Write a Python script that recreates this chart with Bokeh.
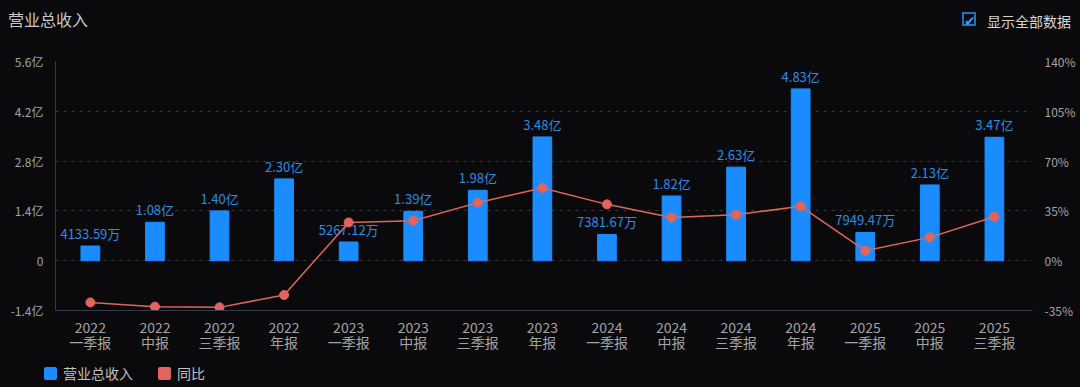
from bokeh.plotting import figure
from bokeh.models import Range1d, LinearAxis, FixedTicker, ColumnDataSource, Div
from bokeh.layouts import column
from bokeh.core.properties import value
from bokeh.embed import file_html
from bokeh.resources import INLINE

# ---- data ----
years = ["2022", "2022", "2022", "2022", "2023", "2023", "2023", "2023",
         "2024", "2024", "2024", "2024", "2025", "2025", "2025"]
periods = ["一季报", "中报", "三季报", "年报", "一季报", "中报", "三季报", "年报",
           "一季报", "中报", "三季报", "年报", "一季报", "中报", "三季报"]
revenue_yi = [0.413359, 1.08, 1.40, 2.30, 0.526712, 1.39, 1.98, 3.48,
              0.738167, 1.82, 2.63, 4.83, 0.794947, 2.13, 3.47]
revenue_labels = ["4133.59万", "1.08亿", "1.40亿", "2.30亿", "5267.12万", "1.39亿", "1.98亿", "3.48亿",
                  "7381.67万", "1.82亿", "2.63亿", "4.83亿", "7949.47万", "2.13亿", "3.47亿"]
yoy_pct = [-29.3, -32.3, -32.8, -24.1, 26.9, 28.1, 40.8, 51.1,
           39.6, 30.4, 32.3, 38.2, 7.0, 16.4, 30.9]
left_ticks = [-1.4, 0, 1.4, 2.8, 4.2, 5.6]
left_tick_labels = ["-1.4亿", "0", "1.4亿", "2.8亿", "4.2亿", "5.6亿"]
right_ticks = [-35, 0, 35, 70, 105, 140]
right_tick_labels = ["-35%", "0%", "35%", "70%", "105%", "140%"]
title_text = "营业总收入"
checkbox_text = "显示全部数据"
legend_labels = ["营业总收入", "同比"]

FONT = "Noto Sans CJK SC"
BG = "#0a0a0c"
BLUE = "#1a8cff"
LABEL_BLUE = "#2b8de6"
RED = "#e0655c"
GREY = "#a3a3a3"

n = len(revenue_yi)
xs = list(range(n))
x_labels = {i: f"{years[i]}\n{periods[i]}" for i in range(n)}

HEAD_H = 45
LEG_H = 23
W = 1080
PH = 387 - HEAD_H - LEG_H

header = Div(width=W, height=HEAD_H, margin=0, styles={"background-color": BG}, text=f"""
<div style="position:relative;width:{W}px;height:{HEAD_H}px;background:{BG};font-family:'{FONT}';">
  <span style="position:absolute;left:8px;top:6px;font-size:16px;line-height:26px;color:#c8c8c8;">{title_text}</span>
  <span style="position:absolute;left:962px;top:12px;width:14px;height:14px;border:2px solid #1f72bf;
        color:#3d9be9;font-family:'DejaVu Sans';font-size:14px;line-height:14px;text-align:center;font-weight:bold;">&#10004;</span>
  <span style="position:absolute;left:987px;top:9px;font-size:14px;line-height:24px;color:#d6d6d6;">{checkbox_text}</span>
</div>""")

legend_div = Div(width=W, height=LEG_H, margin=0, styles={"background-color": BG}, text=f"""
<div style="position:relative;width:{W}px;height:{LEG_H}px;background:{BG};font-family:'{FONT}';">
  <span style="position:absolute;left:44px;top:3px;width:13px;height:13px;border-radius:2px;background:{BLUE};"></span>
  <span style="position:absolute;left:63px;top:-3px;font-size:14px;line-height:24px;color:#c0c0c0;">{legend_labels[0]}</span>
  <span style="position:absolute;left:158px;top:3px;width:13px;height:13px;border-radius:2px;background:{RED};"></span>
  <span style="position:absolute;left:177px;top:-3px;font-size:14px;line-height:24px;color:#c0c0c0;">{legend_labels[1]}</span>
</div>""")

p = figure(width=W, height=PH, output_backend="svg", toolbar_location=None,
           x_range=Range1d(-0.54, n - 1 + 0.59), y_range=Range1d(-1.4, 5.6),
           background_fill_color=BG, border_fill_color=BG, margin=0,
           min_border_left=55, min_border_right=48, min_border_top=61 - HEAD_H,
           min_border_bottom=PH - (310 - HEAD_H))
p.outline_line_color = None

# left axis
ya = p.yaxis[0]
ya.ticker = FixedTicker(ticks=left_ticks)
ya.major_label_overrides = {t: l for t, l in zip(left_ticks, left_tick_labels)}
ya.axis_line_color = "#323a4e"
ya.major_tick_line_color = None
ya.minor_tick_line_color = None
ya.major_label_text_color = GREY
ya.major_label_text_font = FONT
ya.major_label_text_font_size = "12px"
ya.major_label_standoff = 6

# right axis
p.extra_y_ranges = {"pct": Range1d(-35, 140)}
ra = LinearAxis(y_range_name="pct", ticker=FixedTicker(ticks=right_ticks))
ra.major_label_overrides = {t: l for t, l in zip(right_ticks, right_tick_labels)}
ra.axis_line_color = None
ra.major_tick_line_color = None
ra.minor_tick_line_color = None
ra.major_label_text_color = GREY
ra.major_label_text_font = FONT
ra.major_label_text_font_size = "12px"
ra.major_label_standoff = 6
p.add_layout(ra, "right")

# x axis
xa = p.xaxis[0]
xa.ticker = FixedTicker(ticks=xs)
xa.major_label_overrides = x_labels
xa.axis_line_color = "#323a4e"
xa.major_tick_line_color = None
xa.minor_tick_line_color = None
xa.major_label_text_color = GREY
xa.major_label_text_font = FONT
xa.major_label_text_font_size = "14px"
xa.major_label_text_line_height = 0.75
xa.major_label_standoff = 0

p.xgrid.grid_line_color = None
p.ygrid.grid_line_color = "#383838"
p.ygrid.grid_line_dash = "3 5"
p.ygrid.grid_line_width = 1

src = ColumnDataSource(dict(x=xs, rev=revenue_yi, lab=revenue_labels, yoy=yoy_pct))

p.vbar(x="x", top="rev", width=0.29, source=src, color=BLUE)
p.text(x="x", y="rev", text="lab", source=src, text_align="center", text_baseline="bottom",
       y_offset=-3, text_color=LABEL_BLUE, text_font=value(FONT), text_font_size="13px")

p.line(x="x", y="yoy", source=src, y_range_name="pct", line_color=RED, line_width=1.5)
p.scatter(x="x", y="yoy", source=src, y_range_name="pct", size=9, fill_color=RED, line_color=RED)

layout = column(header, p, legend_div, spacing=0, margin=0, styles={"background-color": BG})

open("out.html", "w").write(file_html(layout, INLINE))
